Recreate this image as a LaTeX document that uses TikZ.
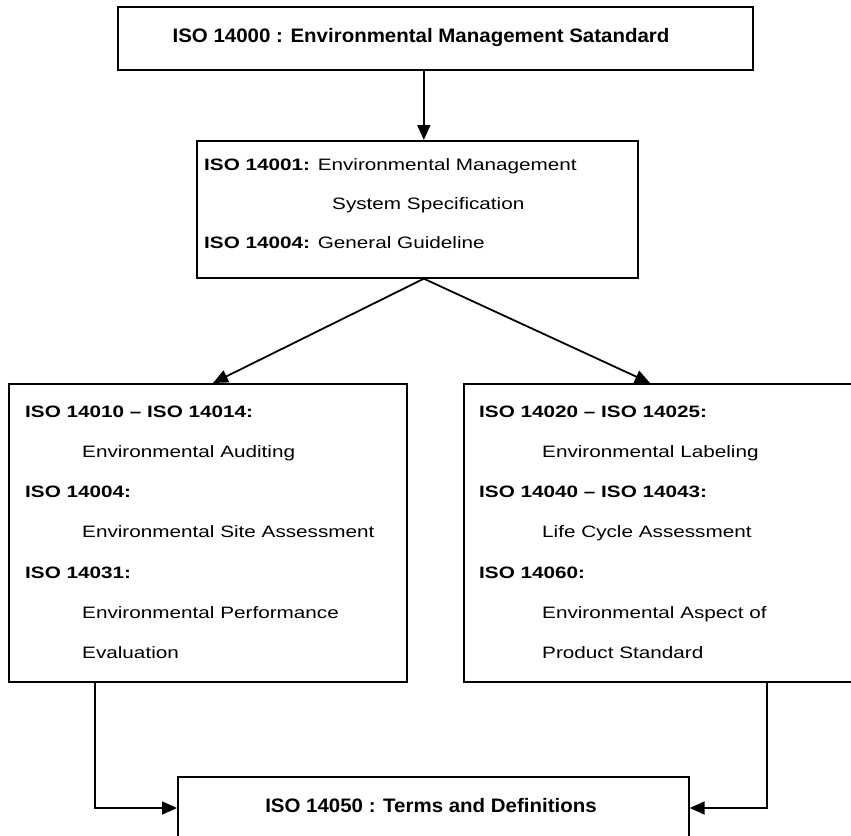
\documentclass[tikz,border=0pt]{standalone}
\usepackage{fontspec}
\setmainfont{Liberation Sans}[FakeStretch=1.255]
\newfontfamily\headfont{Liberation Sans}[FakeStretch=1.05]
\usetikzlibrary{arrows.meta}

\begin{document}
\begin{tikzpicture}[x=1pt,y=-1pt,
  box/.style={draw, line width=1.7pt, rectangle, inner sep=0pt, anchor=north west},
  arr/.style={line width=1.8pt, -{Triangle[length=15pt,width=13pt]}},
  txt/.style={anchor=base west, inner sep=0pt, font=\fontsize{16.5}{19}\selectfont},
  head/.style={anchor=base, inner sep=0pt, font=\headfont\bfseries\fontsize{19.5}{23}\selectfont}]
\clip (0,0) rectangle (851,835);
\fill[white] (0,0) rectangle (851,835);

% boxes
\node[box, minimum width=635pt, minimum height=63pt] (std) at (117,6) {};
\node[box, minimum width=441pt, minimum height=137pt] (ems) at (196,140) {};
\node[box, minimum width=398pt, minimum height=298pt] (audit) at (8,383) {};
\node[box, minimum width=420pt, minimum height=298pt] (label) at (463,383) {};
\node[box, minimum width=511pt, minimum height=100pt] (terms) at (177,776) {};

% headline texts
\node[head] (stdt) at (421,42.5) {ISO 14000 : Environmental Management Satandard};
\node[head] (termst) at (431,812) {ISO 14050 : Terms and Definitions};

% ISO 14001 / 14004
\node[txt] (ems1) at (204,170.5) {\textbf{ISO 14001:} Environmental Management};
\node[txt] (ems2) at (332,209.5) {System Specification};
\node[txt] (ems3) at (204,248.5) {\textbf{ISO 14004:} General Guideline};

% auditing group
\node[txt] (a1) at (25,417) {\textbf{ISO 14010 – ISO 14014:}};
\node[txt] (a2) at (82,457) {Environmental Auditing};
\node[txt] (a3) at (25,497) {\textbf{ISO 14004:}};
\node[txt] (a4) at (82,537) {Environmental Site Assessment};
\node[txt] (a5) at (25,578) {\textbf{ISO 14031:}};
\node[txt] (a6) at (82,618) {Environmental Performance};
\node[txt] (a7) at (82,658) {Evaluation};

% labeling group
\node[txt] (l1) at (479,417) {\textbf{ISO 14020 – ISO 14025:}};
\node[txt] (l2) at (542,457) {Environmental Labeling};
\node[txt] (l3) at (479,497) {\textbf{ISO 14040 – ISO 14043:}};
\node[txt] (l4) at (542,537) {Life Cycle Assessment};
\node[txt] (l5) at (479,578) {\textbf{ISO 14060:}};
\node[txt] (l6) at (542,618) {Environmental Aspect of};
\node[txt] (l7) at (542,658) {Product Standard};

% connectors
\coordinate (apex) at ([xshift=6.5pt]ems.south);
\draw[arr] (std.south -| apex) -- (ems.north -| apex);
\draw[arr] (apex) -- ([xshift=205pt]audit.north west);
\draw[arr] (apex) -- ([xshift=187pt]label.north west);
\draw[arr] ([xshift=87pt]audit.south west) |- ([yshift=-32pt]terms.north west);
\draw[arr] ([xshift=304pt]label.south west) |- ([yshift=-32pt]terms.north east);
\end{tikzpicture}
\end{document}
